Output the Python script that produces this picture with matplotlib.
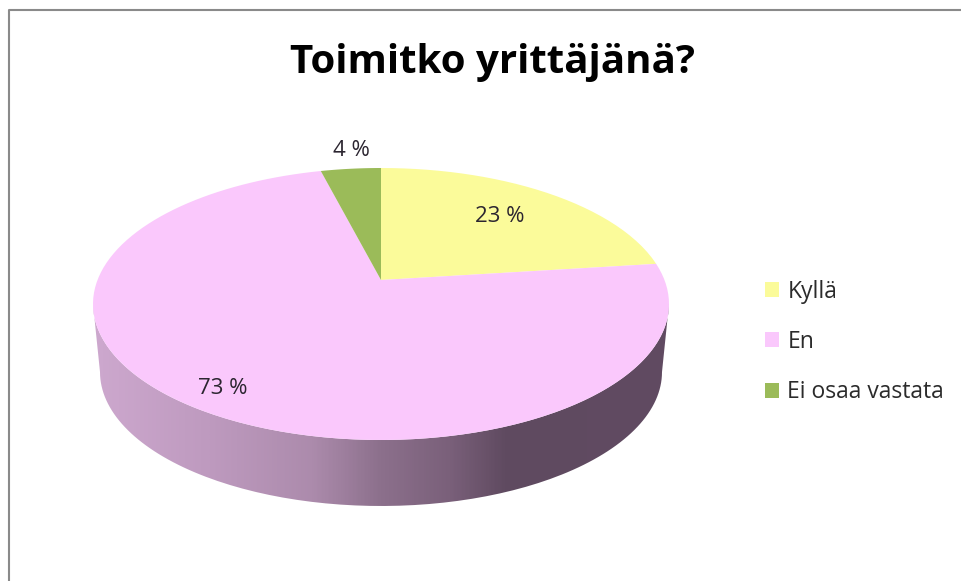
import numpy as np
import matplotlib
matplotlib.use('Agg')
import matplotlib.pyplot as plt
from matplotlib.colors import LinearSegmentedColormap
from matplotlib.patches import PathPatch
from matplotlib.path import Path
from matplotlib.transforms import Transform

categories = ['Kyllä', 'En', 'Ei osaa vastata']
values = [23, 73, 4]
colors = ['#FBFB9A', '#FAC8FC', '#9BBB59']
title = 'Toimitko yrittäjänä?'

plt.rcParams['font.family'] = ['Open Sans', 'DejaVu Sans']


# 饼图顶面透视: unit circle -> tilted ellipse, apex sits above ellipse centre
class TiltTransform(Transform):
    input_dims = 2
    output_dims = 2
    has_inverse = False
    cx, apex_y, top, bottom, half_w = 381.0, 280.0, 168.0, 440.0, 288.0

    def transform_non_affine(self, pts):
        pts = np.asarray(pts, dtype=float)
        c = (self.top + self.bottom - 2 * self.apex_y) / (self.bottom - self.top)
        b = self.top * (1 + c) - self.apex_y
        s = self.half_w * np.sqrt(1 - c ** 2)
        w = 1 + c * pts[:, 1]
        return np.column_stack([self.cx + s * pts[:, 0] / w,
                                (self.apex_y + b * pts[:, 1]) / w])

    def transform_path_non_affine(self, path):
        # flatten the bezier arcs before warping them
        pts = [curve(np.linspace(0, 1, 16)) for curve, code in path.iter_bezier()]
        return Path(self.transform_non_affine(np.vstack(pts)))


fig = plt.figure(figsize=(9.61, 5.81), dpi=100)
ax = fig.add_axes([0, 0, 1, 1])

wedges, _ = ax.pie(values, colors=colors, startangle=90, counterclock=False,
                   radius=1, wedgeprops={'linewidth': 0, 'edgecolor': 'none'})
tilt = TiltTransform()
for w in wedges:
    w.set_transform(tilt + ax.transData)

# 侧面渐变
side_cmap = LinearSegmentedColormap.from_list('side', [
    (0.00, '#CDA8CE'), (0.20, '#BE9ABF'), (0.38, '#AC8BAC'),
    (0.50, '#8C708C'), (0.62, '#7A607A'), (0.72, '#5F4A60'), (1.00, '#614B62'),
])
im = ax.imshow(np.linspace(0, 1, 400).reshape(1, -1), cmap=side_cmap,
               extent=(93, 669, 510, 295), aspect='auto', zorder=0)
a = np.linspace(0, np.pi, 120)
top_x = 381 + 288 * np.cos(a)
top_y = 304 + 136 * np.sin(a)
bot_x = 381 + 281 * np.cos(a[::-1])
bot_y = 372 + 134 * np.sin(a[::-1])
side = PathPatch(Path(np.column_stack([np.r_[top_x, bot_x], np.r_[top_y, bot_y]])),
                 transform=ax.transData, fc='none', ec='none')
ax.add_patch(side)
im.set_clip_path(side)

# 百分比标签
label_pos = [(500, 217), (223, 388), (351, 151)]
for v, (x, y) in zip(values, label_pos):
    ax.text(x, y, f'{v} %', fontsize=16, color='#2b2530', ha='center', va='center')

ax.text(492, 62, title, fontsize=29, fontweight='bold', color='black',
        ha='center', va='center')

leg = ax.legend(wedges, categories, loc='upper left', bbox_to_anchor=(744 / 961, 1 - 259 / 581),
                frameon=False, fontsize=16.5, handlelength=0.63, handleheight=0.63,
                handletextpad=0.36, labelspacing=1.15, labelcolor='#2b2b2b')

# 外框 (只有上边和左边)
ax.plot([8.5, 8.5, 961], [581, 9.5, 9.5], color='#8a8a8a', lw=1.5, zorder=5)

ax.set_aspect('auto')
ax.set_xlim(0, 961)
ax.set_ylim(581, 0)
ax.axis('off')

fig.savefig('out.png', dpi=100, facecolor='white')
